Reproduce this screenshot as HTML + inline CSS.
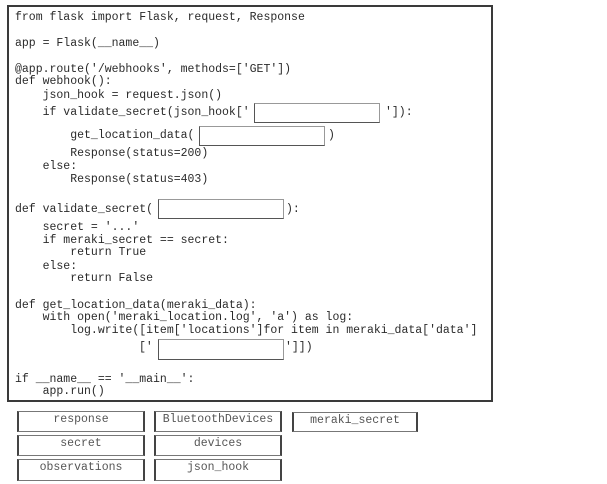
<!DOCTYPE html>
<html><head><meta charset="utf-8"><style>
html,body{margin:0;padding:0;background:#fff;}
body{width:607px;height:484px;position:relative;overflow:hidden;font-family:"Liberation Mono",monospace;font-size:11.5px;color:#2a2a2a;}
.main{position:absolute;left:7px;top:5px;width:482px;height:393px;border:2px solid #3a3a3a;}
.l{position:absolute;white-space:pre;line-height:13px;}
.in{position:absolute;border:1px solid #999;border-left:1px solid #555;border-bottom:1px solid #555;background:#fff;box-sizing:border-box;}
.opt{position:absolute;box-sizing:border-box;border:1px solid #777;border-left:2px solid #444;border-right:2px solid #444;background:#fff;text-align:center;color:#555;font-size:11.5px;line-height:16px;white-space:pre;}
</style></head><body>
<div class="main"></div>
<div class="l" style="left:15px;top:11px">from flask import Flask, request, Response</div>
<div class="l" style="left:15px;top:37px">app = Flask(__name__)</div>
<div class="l" style="left:15px;top:63px">@app.route('/webhooks', methods=['GET'])</div>
<div class="l" style="left:15px;top:75px">def webhook():</div>
<div class="l" style="left:15px;top:89px">    json_hook = request.json()</div>
<div class="l" style="left:15px;top:106px">    if validate_secret(json_hook['</div>
<div class="in" style="left:254px;top:103px;width:126px;height:20px"></div>
<div class="l" style="left:385px;top:106px">']):</div>
<div class="l" style="left:15px;top:129px">        get_location_data(</div>
<div class="in" style="left:199px;top:126px;width:126px;height:20px"></div>
<div class="l" style="left:328px;top:129px">)</div>
<div class="l" style="left:15px;top:147px">        Response(status=200)</div>
<div class="l" style="left:15px;top:160px">    else:</div>
<div class="l" style="left:15px;top:173px">        Response(status=403)</div>
<div class="l" style="left:15px;top:203px">def validate_secret(</div>
<div class="in" style="left:158px;top:199px;width:126px;height:20px"></div>
<div class="l" style="left:286px;top:203px">):</div>
<div class="l" style="left:15px;top:221px">    secret = '...'</div>
<div class="l" style="left:15px;top:234px">    if meraki_secret == secret:</div>
<div class="l" style="left:15px;top:246px">        return True</div>
<div class="l" style="left:15px;top:260px">    else:</div>
<div class="l" style="left:15px;top:272px">        return False</div>
<div class="l" style="left:15px;top:299px">def get_location_data(meraki_data):</div>
<div class="l" style="left:15px;top:311px">    with open('meraki_location.log', 'a') as log:</div>
<div class="l" style="left:15px;top:324px">        log.write([item['locations']for item in meraki_data['data']</div>
<div class="l" style="left:139px;top:341px">['</div>
<div class="in" style="left:158px;top:339px;width:126px;height:21px"></div>
<div class="l" style="left:285px;top:341px">']])</div>
<div class="l" style="left:15px;top:373px">if __name__ == '__main__':</div>
<div class="l" style="left:15px;top:385px">    app.run()</div>

<div class="opt" style="left:17px;top:411px;width:128px;height:21px">response</div>
<div class="opt" style="left:154px;top:411px;width:128px;height:21px">BluetoothDevices</div>
<div class="opt" style="left:292px;top:412px;width:126px;height:20px">meraki_secret</div>
<div class="opt" style="left:17px;top:435px;width:128px;height:21px">secret</div>
<div class="opt" style="left:154px;top:435px;width:128px;height:21px">devices</div>
<div class="opt" style="left:17px;top:459px;width:128px;height:22px">observations</div>
<div class="opt" style="left:154px;top:459px;width:128px;height:22px">json_hook</div>
</body></html>
